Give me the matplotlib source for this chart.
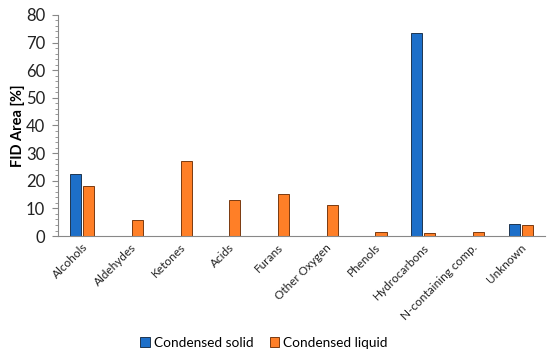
import matplotlib
matplotlib.use("Agg")
import matplotlib.pyplot as plt
import numpy as np

categories = ["Alcohols", "Aldehydes", "Ketones", "Acids", "Furans", "Other Oxygen",
              "Phenols", "Hydrocarbons", "N-containing comp.", "Unknown"]
solid = [22.6, 0, 0, 0, 0, 0.2, 0, 73.3, 0, 4.5]
liquid = [18.2, 5.9, 27.3, 12.9, 15.2, 11.3, 1.3, 1.0, 1.3, 4.0]
yticks = [0, 10, 20, 30, 40, 50, 60, 70, 80]

plt.rcParams['font.family'] = ['Lato', 'DejaVu Sans']

fig = plt.figure(figsize=(5.5, 3.55), dpi=100)
ax = fig.add_axes([0.105, 0.335, 0.886, 0.623])

x = np.arange(len(categories))
w = 0.23
ax.bar(x - w/2 - 0.02, solid, width=w, color="#1D6FC9", edgecolor="#1F3550", linewidth=0.7,
       label="Condensed solid")
ax.bar(x + w/2 + 0.02, liquid, width=w, color="#FF7F27", edgecolor="#7A3A10", linewidth=0.7,
       label="Condensed liquid")

ax.set_xlim(-0.5, len(categories) - 0.5)
ax.set_ylim(0, 80)
ax.set_yticks(yticks)
ax.set_yticklabels([str(t) for t in yticks], fontsize=12, color="#222222")
ax.set_yticks(np.arange(0, 81, 2), minor=True)
ax.tick_params(axis='y', which='major', direction='out', length=4, color="#888888", pad=5)
ax.tick_params(axis='y', which='minor', direction='out', length=2, color="#888888")
ax.set_xticks(x)
ax.set_xticklabels(categories, rotation=45, ha='right', rotation_mode='anchor', fontsize=8.5,
                   color="#222222")
ax.tick_params(axis='x', length=0, pad=4)
for s in ["top", "right"]:
    ax.spines[s].set_visible(False)
ax.spines["left"].set_color("#888888")
ax.spines["bottom"].set_color("#888888")
ax.set_ylabel("FID Area [%]", fontsize=10.5, fontweight='bold', labelpad=1)

fig.legend(loc='center', bbox_to_anchor=(0.48, 0.035), ncol=2, frameon=False, fontsize=9.8,
           handlelength=0.7, handleheight=0.7, handletextpad=0.3, columnspacing=1.2)

fig.savefig("out.png", dpi=100)
